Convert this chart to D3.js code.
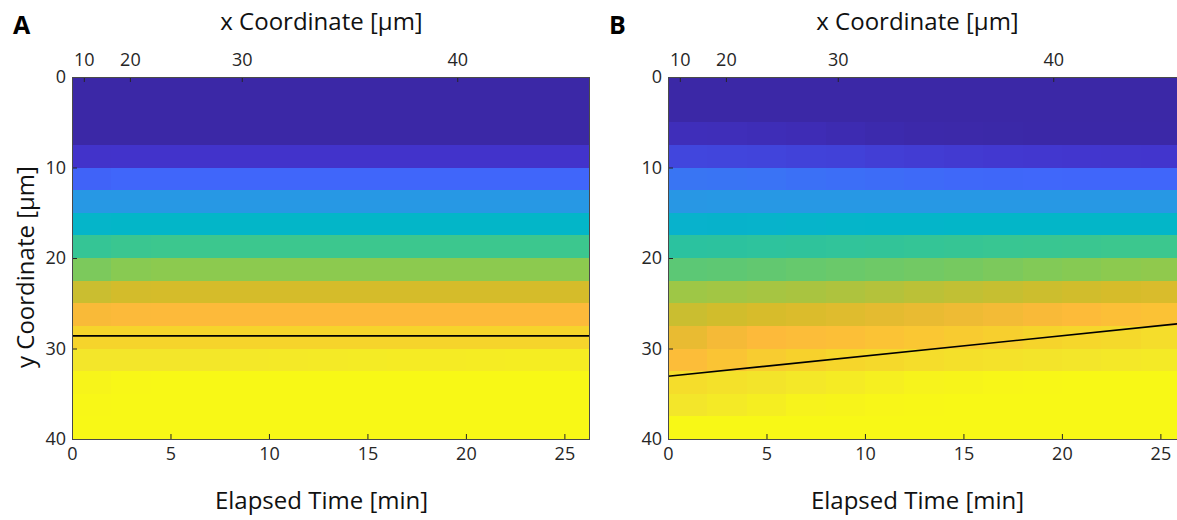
<!DOCTYPE html>
<html>
<head>
<meta charset="utf-8">
<script src="https://cdn.jsdelivr.net/npm/d3@7/dist/d3.min.js"></script>
<style>
  html, body { margin: 0; padding: 0; background: #ffffff; }
  svg { display: block; font-family: "Open Sans", sans-serif; }
</style>
</head>
<body>
<svg id="chart" width="1177" height="520"></svg>
<script>
// ---------------- data ----------------
const timeMax = 26.25;                       // elapsed time axis limit [min]
const yMax = 40;                             // y coordinate axis limit [µm]
const bottomTicks = [0, 5, 10, 15, 20, 25];  // elapsed time ticks
const leftTicks = [0, 10, 20, 30, 40];       // y coordinate ticks
const topTickLabels = [10, 20, 30, 40];      // x coordinate labels (top axis)
const topTickTimes = [0.6, 2.94, 8.62, 19.56]; // elapsed time where each x coordinate is reached

const timeEdges = [0, 2, 4, 6, 8, 10, 12, 14, 16, 18, 20, 22, 24, 26.25];
const yEdges = [0, 2.5, 5, 7.5, 10, 12.5, 15, 17.5, 20, 22.5, 25, 27.5, 30, 32.5, 35, 37.5, 40];

// colour levels (parula-like colormap)
const levelColors = ["#3b28a6", "#4233cb", "#4066fa", "#2798e4", "#03b6c8", "#3cc78e",
                     "#8cca4f", "#d5bc2a", "#fdba3a", "#f6d42b", "#f3e62a", "#f8f816"];

// panel A: intensity level per y row (top to bottom) and time column
const valuesA = [
  [0,0,0,0,0,0,0,0,0,0,0,0,0],
  [0,0,0,0,0,0,0,0,0,0,0,0,0],
  [0,0,0,0,0,0,0,0,0,0,0,0,0],
  [0.97,1,1,1,1,1,1,1,1,1,1,1,1],
  [1.95,2,2,2,2,2,2,2,2,2,2,2,2],
  [3,3,3,3,3,3,3,3,3,3,3,3,3],
  [3.95,4,4,4,4,4,4,4,4,4,4,4,4],
  [4.88,4.97,5,5,5,5,5,5,5,5,5,5,5],
  [5.8,5.95,6,6,6,6,6,6,6,6,6,6,6],
  [6.85,6.97,7,7,7,7,7,7,7,7,7,7,7],
  [7.9,7.98,8,8,8,8,8,8,8,8,8,8,8],
  [9,9,9,9,9,9,9,9,9,9,9,9,9],
  [10,10,10,10.05,10.1,10.15,10.2,10.25,10.3,10.3,10.35,10.4,10.4],
  [10.8,10.95,11,11,11,11,11,11,11,11,11,11,11],
  [10.95,11,11,11,11,11,11,11,11,11,11,11,11],
  [11,11,11,11,11,11,11,11,11,11,11,11,11]
];

// panel B
const valuesB = [
  [0,0,0,0,0,0,0,0,0,0,0,0,0],
  [0,0,0,0,0,0,0,0,0,0,0,0,0],
  [0.55,0.5,0.45,0.4,0.3,0.2,0.12,0.08,0.05,0.03,0.02,0.02,0.02],
  [1.38,1.36,1.33,1.3,1.27,1.22,1.17,1.13,1.1,1.08,1.06,1.05,1.04],
  [2.3,2.28,2.25,2.2,2.15,2.12,2.08,2.05,2.03,2.02,2,2,2],
  [2.98,3,3,3,3,3,3,3,3,3,3,3,3],
  [3.85,3.88,3.9,3.92,3.95,3.97,3.98,4,4,4,4,4,4],
  [4.7,4.72,4.75,4.78,4.8,4.83,4.86,4.9,4.93,4.95,4.97,5,5],
  [5.4,5.43,5.47,5.52,5.57,5.62,5.67,5.73,5.8,5.87,5.93,6,6.05],
  [6.25,6.3,6.35,6.4,6.47,6.55,6.65,6.73,6.8,6.88,6.95,7.02,7.1],
  [6.85,6.95,7.05,7.15,7.25,7.37,7.5,7.62,7.75,7.9,8.05,8.2,8.3],
  [7.5,7.8,8,8.1,8.2,8.35,8.5,8.65,8.8,9,9.15,9.3,9.5],
  [8.1,8.4,8.7,8.9,9.1,9.3,9.5,9.65,9.8,9.9,10,10.1,10.2],
  [9.5,9.7,9.9,10.1,10.3,10.5,10.7,10.8,10.9,10.95,11,11,11],
  [10,10.2,10.45,10.7,10.8,10.9,10.95,11,11,11,11,11,11],
  [11,11,11,11,11,11,11,11,11,11,11,11,11]
];

// fitted front position lines
const lineA = [{t: 0, y: 28.6}, {t: 26.25, y: 28.6}];
const lineB = [{t: 0, y: 33.07}, {t: 26.25, y: 27.19}];

// ---------------- drawing ----------------
const svg = d3.select("#chart");
const plotW = 517, plotH = 362, plotTop = 77;

const color = d3.scaleLinear()
  .domain(levelColors.map((c, i) => i))
  .range(levelColors)
  .interpolate(d3.interpolateRgb)
  .clamp(true);

const x = d3.scaleLinear().domain([0, timeMax]).range([0, plotW]);
const y = d3.scaleLinear().domain([0, yMax]).range([0, plotH]);

const panels = [
  {letter: "A", left: 72, values: valuesA, line: lineA, ylabel: true},
  {letter: "B", left: 668, values: valuesB, line: lineB, ylabel: false}
];

const tickColor = "#262626";

panels.forEach((p, pi) => {
  const g = svg.append("g").attr("transform", `translate(${p.left},${plotTop})`);

  const clipId = "clip" + pi;
  g.append("clipPath").attr("id", clipId)
    .append("rect").attr("width", plotW).attr("height", plotH);

  const cells = [];
  p.values.forEach((row, i) => row.forEach((v, j) => cells.push({i, j, v})));

  g.append("g").attr("clip-path", `url(#${clipId})`)
    .selectAll("rect").data(cells).join("rect")
    .attr("x", d => x(timeEdges[d.j]))
    .attr("y", d => y(yEdges[d.i]))
    .attr("width", d => x(timeEdges[d.j + 1]) - x(timeEdges[d.j]) + 0.5)
    .attr("height", d => y(yEdges[d.i + 1]) - y(yEdges[d.i]) + 0.5)
    .attr("fill", d => color(d.v))
    .attr("shape-rendering", "crispEdges");

  // line
  g.append("path")
    .datum(p.line)
    .attr("clip-path", `url(#${clipId})`)
    .attr("fill", "none")
    .attr("stroke", "#000")
    .attr("stroke-width", 1.6)
    .attr("d", d3.line().x(d => x(d.t)).y(d => y(d.y)));

  // axes
  const styleAxis = sel => {
    sel.select(".domain").remove();
    sel.selectAll(".tick line").attr("stroke", tickColor).attr("stroke-width", 1);
    sel.selectAll(".tick text").attr("fill", tickColor).style("font-family", '"Open Sans", sans-serif');
    sel.attr("font-size", 18).attr("font-family", null);
  };

  g.append("g")
    .call(d3.axisLeft(y).tickValues(leftTicks).tickSize(-5).tickPadding(6).tickFormat(d3.format("d")))
    .call(styleAxis);

  g.append("g").attr("transform", `translate(0,${plotH})`)
    .call(d3.axisBottom(x).tickValues(bottomTicks).tickSize(-5).tickPadding(8).tickFormat(d3.format("d")))
    .call(styleAxis);

  g.append("g")
    .call(d3.axisTop(x).tickValues(topTickTimes).tickSize(-5).tickPadding(11)
      .tickFormat((d, i) => topTickLabels[i]))
    .call(styleAxis);

  // frame
  g.append("rect")
    .attr("x", 0).attr("y", 0).attr("width", plotW).attr("height", plotH)
    .attr("fill", "none").attr("stroke", "#4a4a4a").attr("stroke-width", 1)
    .attr("shape-rendering", "crispEdges");

  // titles
  svg.append("text")
    .attr("x", p.left + 249.5).attr("y", 30)
    .attr("text-anchor", "middle")
    .attr("font-size", 24).attr("fill", "#111")
    .text("x Coordinate [µm]");

  svg.append("text")
    .attr("x", p.left + 249.5).attr("y", 509)
    .attr("text-anchor", "middle")
    .attr("font-size", 24).attr("fill", "#111")
    .text("Elapsed Time [min]");

  svg.append("text")
    .attr("x", p.left - 59).attr("y", 34)
    .attr("font-size", 25).attr("font-weight", "bold").attr("fill", "#000")
    .text(p.letter);

  if (p.ylabel) {
    svg.append("text")
      .attr("transform", `translate(${p.left - 38.5},${plotTop + 190}) rotate(-90)`)
      .attr("text-anchor", "middle")
      .attr("font-size", 24).attr("fill", "#111")
      .text("y Coordinate [µm]");
  }
});
</script>
</body>
</html>
